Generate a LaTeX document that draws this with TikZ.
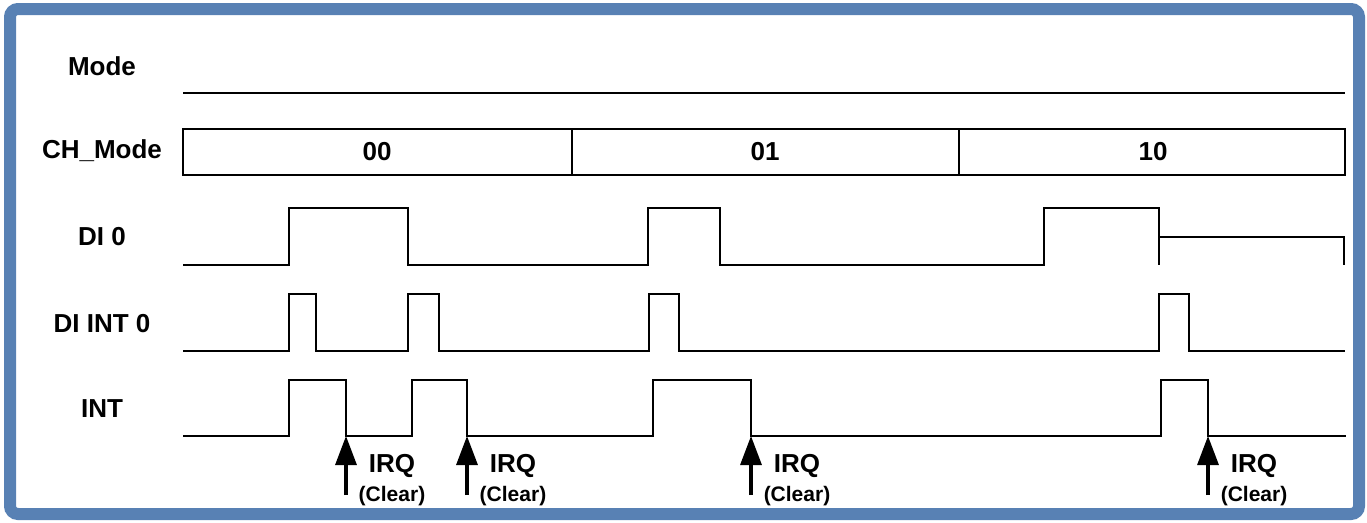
\documentclass[tikz,border=0pt]{standalone}
\usepackage{fontspec}
\setmainfont{Liberation Sans}
\usetikzlibrary{arrows.meta}
\definecolor{frameblue}{RGB}{88,129,180}

\begin{document}
\begin{tikzpicture}[x=1pt, y=-1pt, line width=2.6pt,
    lbl/.style={font=\fontsize{26}{30}\selectfont\bfseries, anchor=base},
    small/.style={font=\fontsize{21}{25}\selectfont\bfseries, anchor=base},
    irq/.style={-{Triangle[length=29pt,width=21pt]}, line width=3.2pt}]
    \useasboundingbox (0,0) rectangle (1367,522);
    \draw[frameblue, line width=12pt, rounded corners=8pt] (10,9) rectangle (1359,514);

    % signal names
    \foreach \name/\txt/\y in {mode/Mode/75, chmode/CH\_Mode/158,
      di/DI 0/245, diint/DI INT 0/332, int/INT/417}
      \node[lbl] (\name) at (102,\y) {\txt};

    % Mode and CH_Mode
    \draw (183,93) -- (1345,93);
    \draw (183,129) rectangle (1345,175);
    \draw (572,129) -- (572,175);
    \draw (959,129) -- (959,175);
    \foreach \v/\x in {00/377, 01/765, 10/1153}
      \node[lbl] (ch\v) at (\x,160) {\v};

    % DI 0
    \draw (183,265) -- (289,265) -- (289,208) -- (408,208) -- (408,265)
      -- (648,265) -- (648,208) -- (720,208) -- (720,265)
      -- (1044,265) -- (1044,208) -- (1159,208) -- (1159,265);
    \draw (1159,237) -- (1344,237) -- (1344,265);

    % DI INT 0
    \draw (183,351) \foreach \a/\b in {289/316, 408/439, 649/679, 1159/1189}
      { -- (\a,351) -- (\a,294) -- (\b,294) -- (\b,351) } -- (1345,351);

    % INT
    \draw (183,436) \foreach \a/\b [count=\i] in {289/346, 412/467, 653/751, 1161/1208}
      { -- (\a,436) -- (\a,380) -- (\b,380) -- (\b,436) coordinate (clr\i) } -- (1346,436);

    % IRQ clear
    \foreach \i in {1,...,4} {
      \draw[irq] ([yshift=-59pt]clr\i) -- (clr\i);
      \node[lbl] (irq\i) at ([xshift=46pt, yshift=-36pt]clr\i) {IRQ};
      \node[small] (clear\i) at ([xshift=46pt, yshift=-65pt]clr\i) {(Clear)};
    }
\end{tikzpicture}
\end{document}
